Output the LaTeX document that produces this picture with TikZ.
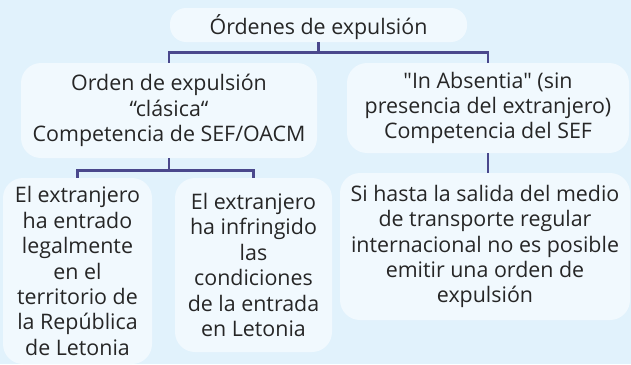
\documentclass[tikz,border=0pt]{standalone}
\usepackage{fontspec}
\setmainfont{Open Sans}[Ligatures=TeXOff]

\definecolor{bgblue}{RGB}{225,242,252}
\definecolor{boxfill}{RGB}{241,249,254}
\definecolor{linkcol}{RGB}{74,72,140}
\definecolor{txtgray}{RGB}{38,38,38}

\begin{document}
\begin{tikzpicture}[x=1pt, y=-1pt,
	box/.style={fill=boxfill, rounded corners=20pt, align=center, text=txtgray,
		inner sep=0pt, font=\fontsize{21.4}{25.4}\selectfont,
		execute at begin node={\rule{0pt}{24pt}}},
	link/.style={draw=linkcol, line width=2.8pt}]
	
	% Background
	\fill[bgblue] (0,0) rectangle (631,364);
	\useasboundingbox (0,0) rectangle (631,364);
	\clip (0,0) rectangle (631,364);
	
	% --- TOP ---
	\node[box, rounded corners=16pt, minimum width=297pt, minimum height=34pt] (root) at (318.5,25) {Órdenes de expulsión};
	
	% --- SECOND LEVEL ---
	\node[box, minimum width=296pt, minimum height=95pt] (clasica) at (169,110.5)
		{Orden de expulsión\\“clásica“\\Competencia de SEF/OACM};
	\node[box, minimum width=282pt, minimum height=90pt] (absentia) at (488,108)
		{"In Absentia" (sin\\presencia del extranjero)\\Competencia del SEF};
	
	% --- THIRD LEVEL ---
	\node[box, minimum width=149pt, minimum height=186pt] (legal) at (77.5,271)
		{El extranjero\\ha entrado\\legalmente\\en el\\territorio de\\la República\\de Letonia};
	\node[box, minimum width=157pt, minimum height=174pt] (infringe) at (253.5,265)
		{El extranjero\\ha infringido\\las\\condiciones\\de la entrada\\en Letonia};
	\node[box, minimum width=290pt, minimum height=147pt] (transporte) at (485,246.5)
		{Si hasta la salida del medio\\de transporte regular\\internacional no es posible\\emitir una orden de\\expulsión};
	
	% Connectors
	\draw[link] (root.south) -- ++(0,10) -| (clasica.north);
	\draw[link] (root.south) -- ++(0,10) -| (absentia.north);
	\draw[link] (clasica.south) -- ++(0,12) -| (legal.north);
	\draw[link] (clasica.south) -- ++(0,12) -| (infringe.north);
	\draw[link] (absentia.south) -- (absentia.south |- transporte.north);
	
\end{tikzpicture}
\end{document}
